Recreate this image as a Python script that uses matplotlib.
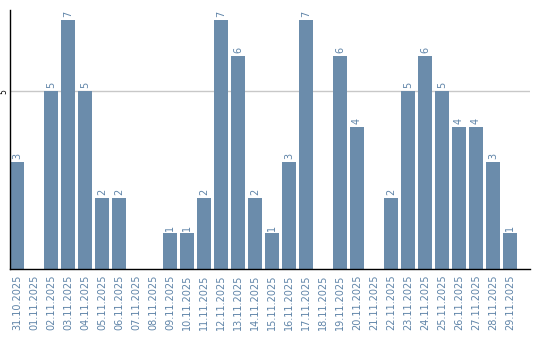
import matplotlib
matplotlib.use("Agg")
import matplotlib.pyplot as plt
import numpy as np

dates = ["31.10.2025", "01.11.2025", "02.11.2025", "03.11.2025", "04.11.2025",
         "05.11.2025", "06.11.2025", "07.11.2025", "08.11.2025", "09.11.2025",
         "10.11.2025", "11.11.2025", "12.11.2025", "13.11.2025", "14.11.2025",
         "15.11.2025", "16.11.2025", "17.11.2025", "18.11.2025", "19.11.2025",
         "20.11.2025", "21.11.2025", "22.11.2025", "23.11.2025", "24.11.2025",
         "25.11.2025", "26.11.2025", "27.11.2025", "28.11.2025", "29.11.2025"]
counts = [3, 0, 5, 7, 5, 2, 2, 0, 0, 1, 1, 2, 7, 6, 2, 1, 3, 7, 0, 6,
          4, 0, 2, 5, 6, 5, 4, 4, 3, 1]

BAR = "#6b8cab"
LABEL = "#5f84a8"

fig = plt.figure(figsize=(5.4, 3.4), dpi=100)
ax = fig.add_axes([10 / 540, 71 / 340, 520 / 540, 259 / 340])

x = np.arange(len(dates))
ax.bar(x, counts, width=0.82, color=BAR, zorder=2)

for xi, v in zip(x, counts):
    if v > 0:
        ax.text(xi, v + 0.08, str(v), rotation=90, ha="center", va="bottom",
                fontsize=7, color=LABEL)

ax.set_xlim(-0.41, 30.18)
ax.set_ylim(0, 7.28)

ax.set_yticks([5])
ax.set_yticklabels(["5"], rotation=90, va="center", fontsize=5.5)
ax.axhline(5, color="#c8c8c8", lw=1, zorder=1)

ax.set_xticks(x)
ax.set_xticklabels(dates, rotation=90, fontsize=7, color=LABEL)
ax.tick_params(axis="both", length=0, pad=4)
ax.tick_params(axis="y", pad=1)

for s in ["top", "right"]:
    ax.spines[s].set_visible(False)
ax.spines["left"].set_linewidth(1.0)
ax.spines["bottom"].set_linewidth(1.0)

fig.savefig("out.png", dpi=100)
